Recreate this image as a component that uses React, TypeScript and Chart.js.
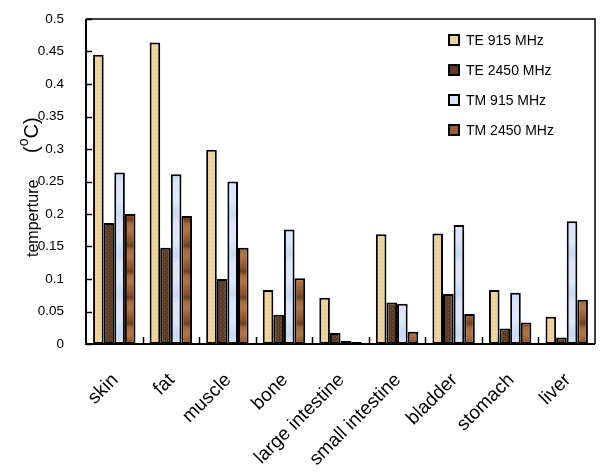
import React, { useEffect, useRef } from "react";
import { Chart, registerables } from "chart.js";

Chart.register(...registerables);

const categories = ["skin", "fat", "muscle", "bone", "large intestine", "small intestine", "bladder", "stomach", "liver"];
const te915 = [0.445, 0.464, 0.299, 0.083, 0.071, 0.169, 0.17, 0.083, 0.042];
const te2450 = [0.186, 0.148, 0.1, 0.045, 0.017, 0.064, 0.077, 0.024, 0.01];
const tm915 = [0.264, 0.261, 0.25, 0.176, 0.005, 0.062, 0.183, 0.079, 0.189];
const tm2450 = [0.2, 0.197, 0.148, 0.101, 0.003, 0.019, 0.046, 0.033, 0.068];
const seriesNames = ["TE 915 MHz", "TE 2450 MHz", "TM 915 MHz", "TM 2450 MHz"];
const yTicks = [0, 0.05, 0.1, 0.15, 0.2, 0.25, 0.3, 0.35, 0.4, 0.45, 0.5];

const FONT = "'Liberation Sans', Arial, sans-serif";
const solid = ["#EDD39B", "#5C3B25", "#D6E4FA", "#9C6031"];

function makePattern(kind: number): CanvasPattern | string {
  const c = document.createElement("canvas");
  const ctx = c.getContext("2d");
  if (!ctx) return solid[kind];
  if (kind === 0) {
    c.width = 4; c.height = 4;
    ctx.fillStyle = "#EED49C"; ctx.fillRect(0, 0, 4, 4);
    ctx.fillStyle = "#E6C98C"; ctx.fillRect(1, 1, 1, 1); ctx.fillRect(3, 2, 1, 1);
    ctx.fillStyle = "#F3DDAA"; ctx.fillRect(2, 3, 1, 1);
  } else if (kind === 1) {
    c.width = 4; c.height = 4;
    ctx.fillStyle = "#5E3D26"; ctx.fillRect(0, 0, 4, 4);
    ctx.fillStyle = "#7A5535"; ctx.fillRect(0, 0, 1, 1); ctx.fillRect(2, 2, 1, 1);
    ctx.fillStyle = "#46301E"; ctx.fillRect(1, 3, 1, 1); ctx.fillRect(3, 1, 1, 1);
  } else if (kind === 2) {
    c.width = 8; c.height = 40;
    const g = ctx.createLinearGradient(0, 0, 0, 40);
    g.addColorStop(0, "#DCE8FB");
    g.addColorStop(0.35, "#C9DAF3");
    g.addColorStop(0.6, "#DDE6FC");
    g.addColorStop(1, "#DCE8FB");
    ctx.fillStyle = g; ctx.fillRect(0, 0, 8, 40);
  } else {
    c.width = 8; c.height = 26;
    const g = ctx.createLinearGradient(0, 0, 0, 26);
    g.addColorStop(0, "#A46835");
    g.addColorStop(0.3, "#8A5128");
    g.addColorStop(0.45, "#6E3E1C");
    g.addColorStop(0.6, "#A56A38");
    g.addColorStop(0.85, "#B07645");
    g.addColorStop(1, "#A46835");
    ctx.fillStyle = g; ctx.fillRect(0, 0, 8, 26);
  }
  const p = ctx.createPattern(c, "repeat");
  return p || solid[kind];
}

const framePlugin = {
  id: "frame",
  afterDatasetsDraw(chart: any) {
    const { ctx, chartArea } = chart;
    const { left, right, top, bottom } = chartArea;
    const x = chart.scales.x;
    const y = chart.scales.y;
    ctx.save();
    ctx.strokeStyle = "#000";
    // inward y ticks
    ctx.lineWidth = 1.5;
    yTicks.forEach((v) => {
      const py = Math.round(y.getPixelForValue(v)) + 0.5;
      ctx.beginPath();
      ctx.moveTo(left, py);
      ctx.lineTo(left + 6, py);
      ctx.stroke();
    });
    // category boundary ticks
    for (let i = 0; i < categories.length - 1; i++) {
      const px = Math.round((x.getPixelForValue(i) + x.getPixelForValue(i + 1)) / 2) + 0.5;
      ctx.beginPath();
      ctx.moveTo(px, bottom);
      ctx.lineTo(px, bottom - 7);
      ctx.stroke();
    }
    // top & right
    ctx.lineWidth = 1.5;
    ctx.beginPath();
    ctx.moveTo(left, top);
    ctx.lineTo(right, top);
    ctx.lineTo(right, bottom);
    ctx.stroke();
    // left & bottom axes
    ctx.lineWidth = 2;
    ctx.beginPath();
    ctx.moveTo(left, top);
    ctx.lineTo(left, bottom);
    ctx.lineTo(right, bottom);
    ctx.stroke();

    // y title with superscript
    ctx.fillStyle = "#000";
    ctx.translate(38, 257);
    ctx.rotate(-Math.PI / 2);
    ctx.textBaseline = "alphabetic";
    ctx.textAlign = "left";
    ctx.font = `16px ${FONT}`;
    ctx.fillText("temperture", 0, 0);
    let cx = 104;
    ctx.font = `20px ${FONT}`;
    ctx.fillText("(", cx, 0);
    cx += ctx.measureText("(").width;
    ctx.font = `14px ${FONT}`;
    ctx.fillText("o", cx, -10);
    cx += ctx.measureText("o").width;
    ctx.font = `20px ${FONT}`;
    ctx.fillText("C)", cx, 0);
    ctx.restore();
  },
};

export default function App() {
  const ref = useRef<HTMLCanvasElement | null>(null);
  useEffect(() => {
    if (!ref.current) return;
    const fills = [0, 1, 2, 3].map((k) => makePattern(k));
    const all = [te915, te2450, tm915, tm2450];
    const chart = new Chart(ref.current, {
      type: "bar",
      data: {
        labels: categories,
        datasets: all.map((d, i) => ({
          label: seriesNames[i],
          data: d,
          backgroundColor: fills[i] as any,
          borderColor: "#000",
          borderWidth: 2,
          borderSkipped: false,
          categoryPercentage: 0.75,
          barPercentage: 1,
        })),
      },
      plugins: [framePlugin],
      options: {
        responsive: false,
        animation: false,
        layout: { padding: { top: 19, right: 5, left: 0, bottom: 0 } },
        plugins: { legend: { display: false }, tooltip: { enabled: false } },
        scales: {
          x: {
            grid: { display: false, drawTicks: false },
            border: { display: false },
            ticks: {
              autoSkip: false,
              maxRotation: 45,
              minRotation: 45,
              padding: 25,
              labelOffset: 1,
              color: "#000",
              font: { family: FONT, size: 19 },
            },
            afterFit: (s: any) => {
              s.height = 131;
              s.paddingLeft = 0;
              s.paddingRight = 0;
            },
          },
          y: {
            min: 0,
            max: 0.5,
            grid: { display: false, drawTicks: false },
            border: { display: false },
            ticks: {
              stepSize: 0.05,
              padding: 22,
              color: "#000",
              font: { family: FONT, size: 13.5 },
              callback: (v: any) => String(Math.round(Number(v) * 100) / 100),
            },
            afterFit: (s: any) => {
              s.width = 86;
              s.paddingTop = 0;
              s.paddingBottom = 0;
            },
          },
        },
      },
    });
    return () => chart.destroy();
  }, []);

  const legendTop = [34, 63.5, 94, 123.5];
  return (
    <div style={{ position: "fixed", left: 0, top: 0, width: 600, height: 475, background: "#fff", overflow: "hidden" }}>
      <canvas ref={ref} width={600} height={475} style={{ display: "block" }} />
      {seriesNames.map((n, i) => (
        <div
          key={n}
          style={{
            position: "absolute",
            left: 448,
            top: legendTop[i],
            height: 12,
            display: "flex",
            alignItems: "center",
            fontFamily: FONT,
            fontSize: 14,
            color: "#000",
            whiteSpace: "nowrap",
          }}
        >
          <span
            style={{
              display: "inline-block",
              width: 8,
              height: 8,
              border: "2px solid #000",
              background: solid[i],
              marginRight: 6,
            }}
          />
          <span style={{ lineHeight: "12px" }}>{n}</span>
        </div>
      ))}
    </div>
  );
}
